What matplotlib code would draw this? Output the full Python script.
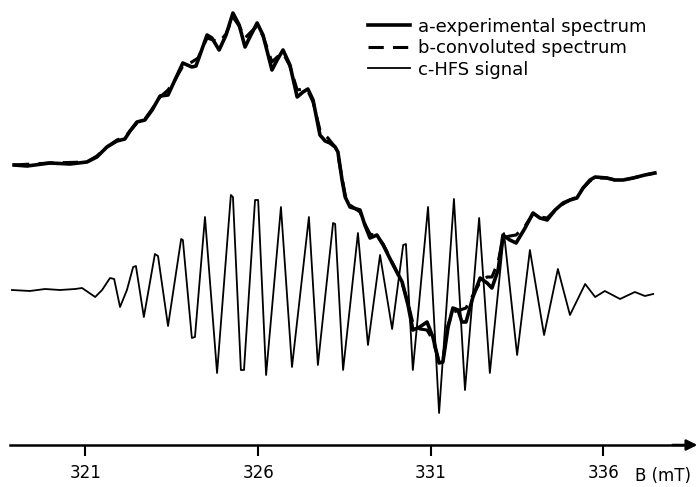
"""
EPR spectrum: experimental curve (a), convoluted curve (b)
and the extracted HFS signal (c), values read off the scanned figure.
"""

import matplotlib
matplotlib.use("Agg")
import matplotlib.pyplot as plt

plt.rcParams['font.family'] = ['DejaVu Sans']

# -------------------------------------------------------------------
# 1. Data (B in mT, intensity in arbitrary units)
# -------------------------------------------------------------------
a_field = [
    318.93, 319.31, 319.97, 320.55, 321.04, 321.33, 321.62, 321.91, 322.14, 322.29,
    322.49, 322.72, 322.93, 323.16, 323.39, 323.59, 323.82, 324.08, 324.20, 324.52,
    324.66, 324.87, 325.07, 325.27, 325.45, 325.62, 325.79, 325.97, 326.14, 326.40,
    326.55, 326.72, 326.92, 327.13, 327.30, 327.44, 327.59, 327.79, 327.94, 328.08,
    328.23, 328.31, 328.43, 328.52, 328.66, 328.95, 329.09, 329.24, 329.44, 329.62,
    329.88, 330.17, 330.34, 330.48, 330.68, 330.89, 331.06, 331.24, 331.35, 331.50,
    331.64, 331.79, 331.90, 332.02, 332.22, 332.43, 332.63, 332.77, 332.95, 333.09,
    333.29, 333.47, 333.73, 333.96, 334.16, 334.37, 334.60, 334.83, 335.03, 335.23,
    335.41, 335.61, 335.76, 336.10, 336.33, 336.57, 336.86, 337.20, 337.49,
]
a_signal = [
    125, 124, 127, 126, 128, 133, 143, 149, 151, 159,
    168, 170, 180, 194, 195, 210, 227, 223, 224, 255,
    252, 240, 255, 277, 265, 243, 255, 267, 255, 220,
    230, 240, 225, 193, 198, 201, 190, 155, 149, 147,
    143, 138, 110, 93, 83, 80, 65, 52, 55, 45,
    27, 8, -15, -40, -37, -32, -47, -73, -72, -37,
    -18, -20, -32, -32, -7, 12, 7, 2, 20, 55,
    50, 47, 62, 77, 72, 70, 80, 87, 90, 92,
    102, 110, 113, 112, 110, 110, 112, 115, 117,
]

b_field = [
    318.93, 319.97, 321.04, 321.33, 321.62, 321.91, 322.14, 322.29, 322.49, 322.72,
    322.93, 323.16, 323.39, 323.59, 323.82, 324.08, 324.26, 324.52, 324.87, 325.07,
    325.27, 325.45, 325.62, 325.79, 325.97, 326.14, 326.40, 326.55, 326.72, 326.92,
    327.13, 327.30, 327.44, 327.59, 327.79, 328.02, 328.23, 328.31, 328.43, 328.52,
    328.66, 328.95, 329.09, 329.24, 329.44, 329.62, 329.88, 330.17, 330.34, 330.48,
    330.68, 330.89, 331.06, 331.24, 331.35, 331.50, 331.64, 331.85, 332.02, 332.22,
    332.43, 332.63, 332.77, 332.95, 333.09, 333.29, 333.47, 333.73, 333.96, 334.16,
    334.37, 334.60, 334.83, 335.03, 335.23, 335.41, 335.61, 335.76, 336.10, 336.33,
    336.57, 336.86, 337.20, 337.49,
]
b_signal = [
    125, 127, 128, 134, 143, 150, 153, 159, 167, 171,
    181, 193, 200, 210, 224, 228, 232, 252, 248, 256,
    273, 264, 252, 258, 264, 254, 228, 233, 237, 224,
    200, 201, 199, 188, 160, 152, 143, 135, 112, 95,
    85, 78, 66, 56, 54, 46, 28, 7, -13, -33,
    -39, -40, -50, -72, -70, -35, -22, -20, -18, -5,
    8, 13, 13, 28, 52, 54, 55, 64, 76, 73,
    72, 80, 86, 90, 93, 102, 109, 112, 112, 110,
    110, 112, 115, 117,
]

c_field = [
    318.87, 319.39, 319.83, 320.26, 320.70, 320.90, 321.07, 321.28, 321.48, 321.71,
    321.83, 322.00, 322.20, 322.38, 322.46, 322.69, 323.01, 323.10, 323.39, 323.77,
    323.82, 324.08, 324.17, 324.46, 324.81, 325.21, 325.27, 325.50, 325.59, 325.91,
    326.00, 326.23, 326.66, 326.98, 327.47, 327.73, 328.17, 328.23, 328.46, 328.89,
    329.18, 329.53, 329.88, 330.20, 330.28, 330.48, 330.92, 331.24, 331.67, 331.99,
    332.40, 332.71, 333.12, 333.50, 333.87, 334.28, 334.68, 335.03, 335.47, 335.76,
    336.04, 336.48, 336.91, 337.20, 337.44,
]
c_signal = [
    0, -1, 1, 0, 1, 2, -2, -7, 0, 12,
    11, -17, 0, 23, 24, -27, 36, 34, -36, 51,
    50, -48, -47, 73, -83, 95, 93, -80, -80, 90,
    90, -85, 83, -77, 73, -75, 67, 66, -80, 57,
    -55, 35, -39, 45, 46, -80, 83, -123, 91, -100,
    72, -83, 57, -65, 40, -45, 21, -25, 6, -7,
    -1, -9, -2, -6, -4,
]

tick_values = [321, 326, 331, 336]
labels = ["a-experimental spectrum", "b-convoluted spectrum", "c-HFS signal"]

# -------------------------------------------------------------------
# 2. Plot
# -------------------------------------------------------------------
fig = plt.figure(figsize=(6.99, 4.87), dpi=100)
ax = fig.add_axes([0, 0, 1, 1])

line_a, = ax.plot(a_field, a_signal, color="black", linewidth=2.6,
                  solid_joinstyle="round")
line_b, = ax.plot(b_field, b_signal, color="black", linewidth=2.2,
                  dashes=(5, 3))
line_c, = ax.plot(c_field, c_signal, color="black", linewidth=1.3)

ax.set_xlim(318.524, 338.767)
ax.set_ylim(-197, 290)

# field axis with arrow, no frame
axis_y = -155
for side in ["top", "right", "left"]:
    ax.spines[side].set_visible(False)
ax.spines["bottom"].set_position(("data", axis_y))
ax.spines["bottom"].set_linewidth(1.8)
ax.spines["bottom"].set_bounds(318.81, 338.3)
ax.annotate("", xy=(338.72, axis_y), xytext=(338.0, axis_y),
            arrowprops=dict(arrowstyle="-|>", color="black", lw=1.8,
                            mutation_scale=16, shrinkA=0, shrinkB=0))

ax.set_xticks(tick_values)
ax.set_xticklabels([str(t) for t in tick_values])
ax.tick_params(axis="x", direction="out", length=8, width=1.5,
               labelsize=12, pad=6)
ax.set_yticks([])
ax.text(337.72, -186, "B (mT)", fontsize=12, ha="center", va="center")

ax.legend([line_a, line_b, line_c], labels, loc="upper left",
          bbox_to_anchor=(368 / 699, 1 - 17.5 / 487), frameon=False,
          fontsize=13, borderpad=0, borderaxespad=0, handlelength=2.3,
          handletextpad=0.45, labelspacing=0.2)

plt.savefig("out.png", dpi=100)
